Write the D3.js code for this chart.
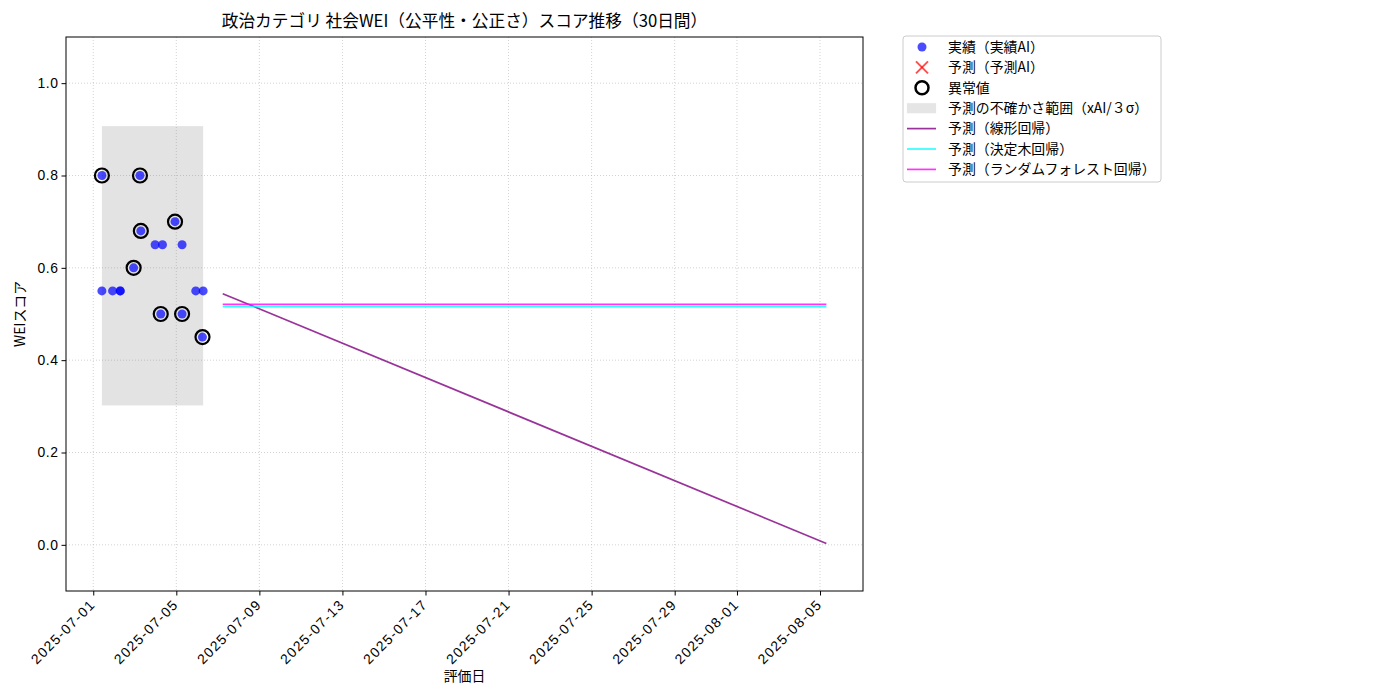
<!DOCTYPE html>
<html>
<head>
<meta charset="utf-8">
<script src="https://cdn.jsdelivr.net/npm/d3@7"></script>
<style>
  body { margin: 0; background: #fff; }
  svg { font-family: "Noto Sans CJK JP", "DejaVu Sans", sans-serif; }
</style>
</head>
<body>
<svg id="chart" width="1400" height="700"></svg>
<script>
// actual scores (実績AI)
var actualDates = ["2025-07-01T10:00", "2025-07-01T10:00", "2025-07-01T22:20", "2025-07-02T07:10",
  "2025-07-02T07:10", "2025-07-02T22:40", "2025-07-03T06:00", "2025-07-03T07:00",
  "2025-07-03T23:30", "2025-07-04T06:00", "2025-07-04T08:00", "2025-07-04T22:30",
  "2025-07-05T06:40", "2025-07-05T06:40", "2025-07-05T22:30", "2025-07-06T07:00", "2025-07-06T06:15"];
var actualScores = [0.80, 0.55, 0.55, 0.55, 0.55, 0.60, 0.80, 0.68, 0.65, 0.50, 0.65, 0.70, 0.65, 0.50, 0.55, 0.55, 0.45];
var isOutlier = [true, false, false, false, false, true, true, true, false, true, false, true, false, true, false, false, true];

// uncertainty band
var bandDates = ["2025-07-01T10:00", "2025-07-06T07:00"];
var bandRange = [0.302, 0.907];

// forecast lines (start / end of 30 day horizon)
var forecastDates = ["2025-07-07T05:40", "2025-08-05T07:20"];
var linearPred = [0.544, 0.003];
var treePred = [0.516, 0.516];
var forestPred = [0.521, 0.521];

var xTickLabels = ["2025-07-01", "2025-07-05", "2025-07-09", "2025-07-13", "2025-07-17",
  "2025-07-21", "2025-07-25", "2025-07-29", "2025-08-01", "2025-08-05"];
var yTicks = [0.0, 0.2, 0.4, 0.6, 0.8, 1.0];

var legendLabels = ["実績（実績AI）", "予測（予測AI）", "異常値", "予測の不確かさ範囲（xAI/３σ）",
  "予測（線形回帰）", "予測（決定木回帰）", "予測（ランダムフォレスト回帰）"];

var plotL = 66, plotR = 863, plotT = 37, plotB = 591;
var parse = d3.isoParse;
var svg = d3.select("#chart");

var x = d3.scaleTime()
  .domain([parse("2025-06-29T16:30"), parse("2025-08-07T01:40")])
  .range([plotL, plotR]);
var y = d3.scaleLinear().domain([-0.1, 1.1]).range([plotB, plotT]);

var tickDates = xTickLabels.map(d => parse(d + "T00:00"));

// grid
var grid = svg.append("g");
grid.selectAll("line.vg").data(tickDates).join("line").classed("vg", true)
  .attr("x1", d => x(d)).attr("x2", d => x(d)).attr("y1", plotT).attr("y2", plotB);
grid.selectAll("line.hg").data(yTicks).join("line").classed("hg", true)
  .attr("x1", plotL).attr("x2", plotR).attr("y1", d => y(d)).attr("y2", d => y(d));
grid.selectAll("line")
  .attr("stroke", "#b0b0b0").attr("stroke-width", 0.8).attr("stroke-dasharray", "1,2").attr("opacity", 0.7);

// band
svg.append("rect")
  .attr("x", x(parse(bandDates[0]))).attr("width", x(parse(bandDates[1])) - x(parse(bandDates[0])))
  .attr("y", y(bandRange[1])).attr("height", y(bandRange[0]) - y(bandRange[1]))
  .attr("fill", "#808080").attr("opacity", 0.22);

// actual points
var pts = actualDates.map((d, i) => ({ date: parse(d), v: actualScores[i], out: isOutlier[i] }));
svg.append("g").selectAll("circle").data(pts).join("circle")
  .attr("cx", d => x(d.date)).attr("cy", d => y(d.v)).attr("r", 4.5)
  .attr("fill", "blue").attr("fill-opacity", 0.7);

// outliers
svg.append("g").selectAll("circle").data(pts.filter(d => d.out)).join("circle")
  .attr("cx", d => x(d.date)).attr("cy", d => y(d.v)).attr("r", 7)
  .attr("fill", "none").attr("stroke", "black").attr("stroke-width", 2.2);

// forecast lines
var line = d3.line().x(d => x(d[0])).y(d => y(d[1]));
var series = [
  { vals: linearPred, color: "purple" },
  { vals: treePred, color: "cyan" },
  { vals: forestPred, color: "magenta" }
];
series.forEach(s => {
  svg.append("path")
    .datum(forecastDates.map((d, i) => [parse(d), s.vals[i]]))
    .attr("d", line).attr("fill", "none").attr("stroke", s.color)
    .attr("stroke-width", 1.7).attr("opacity", 0.8);
});

// axes
var xAxis = svg.append("g").attr("transform", "translate(0," + plotB + ")")
  .call(d3.axisBottom(x).tickValues(tickDates).tickFormat(d3.timeFormat("%Y-%m-%d")).tickSizeOuter(0).tickSize(4.5));
xAxis.selectAll("text")
  .attr("font-size", 13.9).attr("letter-spacing", 1.3).attr("fill", "#000")
  .attr("text-anchor", "end").attr("x", 0).attr("y", 0).attr("dy", "0.35em")
  .attr("transform", "translate(-1,11) rotate(-45)");
var yAxis = svg.append("g").attr("transform", "translate(" + plotL + ",0)")
  .call(d3.axisLeft(y).tickValues(yTicks).tickFormat(d3.format(".1f")).tickSizeOuter(0).tickSize(4.5));
yAxis.selectAll("text").attr("font-size", 13.9).attr("letter-spacing", 0.6).attr("fill", "#000");
svg.selectAll(".domain").remove();
svg.append("rect").attr("x", plotL).attr("y", plotT).attr("width", plotR - plotL).attr("height", plotB - plotT)
  .attr("fill", "none").attr("stroke", "black").attr("stroke-width", 1);

// labels
svg.append("text").attr("x", (plotL + plotR) / 2).attr("y", 27).attr("text-anchor", "middle")
  .attr("font-size", 16.7).text("政治カテゴリ 社会WEI（公平性・公正さ）スコア推移（30日間）");
svg.append("text").attr("x", (plotL + plotR) / 2).attr("y", 681).attr("text-anchor", "middle")
  .attr("font-size", 13.9).text("評価日");
svg.append("text").attr("transform", "translate(25," + (plotT + plotB) / 2 + ") rotate(-90)")
  .attr("text-anchor", "middle").attr("font-size", 13.9).text("WEIスコア");

// legend
var lg = svg.append("g").attr("transform", "translate(903,36)");
lg.append("rect").attr("width", 258).attr("height", 146).attr("rx", 3)
  .attr("fill", "white").attr("stroke", "#ccc");
var rowY = i => 11 + i * 20.4;
lg.selectAll("text").data(legendLabels).join("text")
  .attr("x", 45).attr("y", (d, i) => rowY(i)).attr("dy", "0.35em")
  .attr("font-size", 13.9).text(d => d);
lg.append("circle").attr("cx", 19).attr("cy", rowY(0)).attr("r", 4.5).attr("fill", "blue").attr("fill-opacity", 0.7);
var xg = lg.append("g").attr("transform", "translate(19," + rowY(1) + ")");
xg.append("line").attr("x1", -6).attr("y1", -6).attr("x2", 6).attr("y2", 6);
xg.append("line").attr("x1", -6).attr("y1", 6).attr("x2", 6).attr("y2", -6);
xg.selectAll("line").attr("stroke", "red").attr("stroke-opacity", 0.7).attr("stroke-width", 2);
lg.append("circle").attr("cx", 19).attr("cy", rowY(2)).attr("r", 6.5).attr("fill", "none").attr("stroke", "black").attr("stroke-width", 2.5);
lg.append("rect").attr("x", 4).attr("y", rowY(3) - 5).attr("width", 29).attr("height", 10)
  .attr("fill", "#808080").attr("opacity", 0.2).attr("stroke", "#808080").attr("stroke-opacity", 0.1);
series.forEach((s, i) => {
  lg.append("line").attr("x1", 4).attr("x2", 33).attr("y1", rowY(4 + i)).attr("y2", rowY(4 + i))
    .attr("stroke", s.color).attr("stroke-width", 1.7).attr("opacity", 0.8);
});
</script>
</body>
</html>
